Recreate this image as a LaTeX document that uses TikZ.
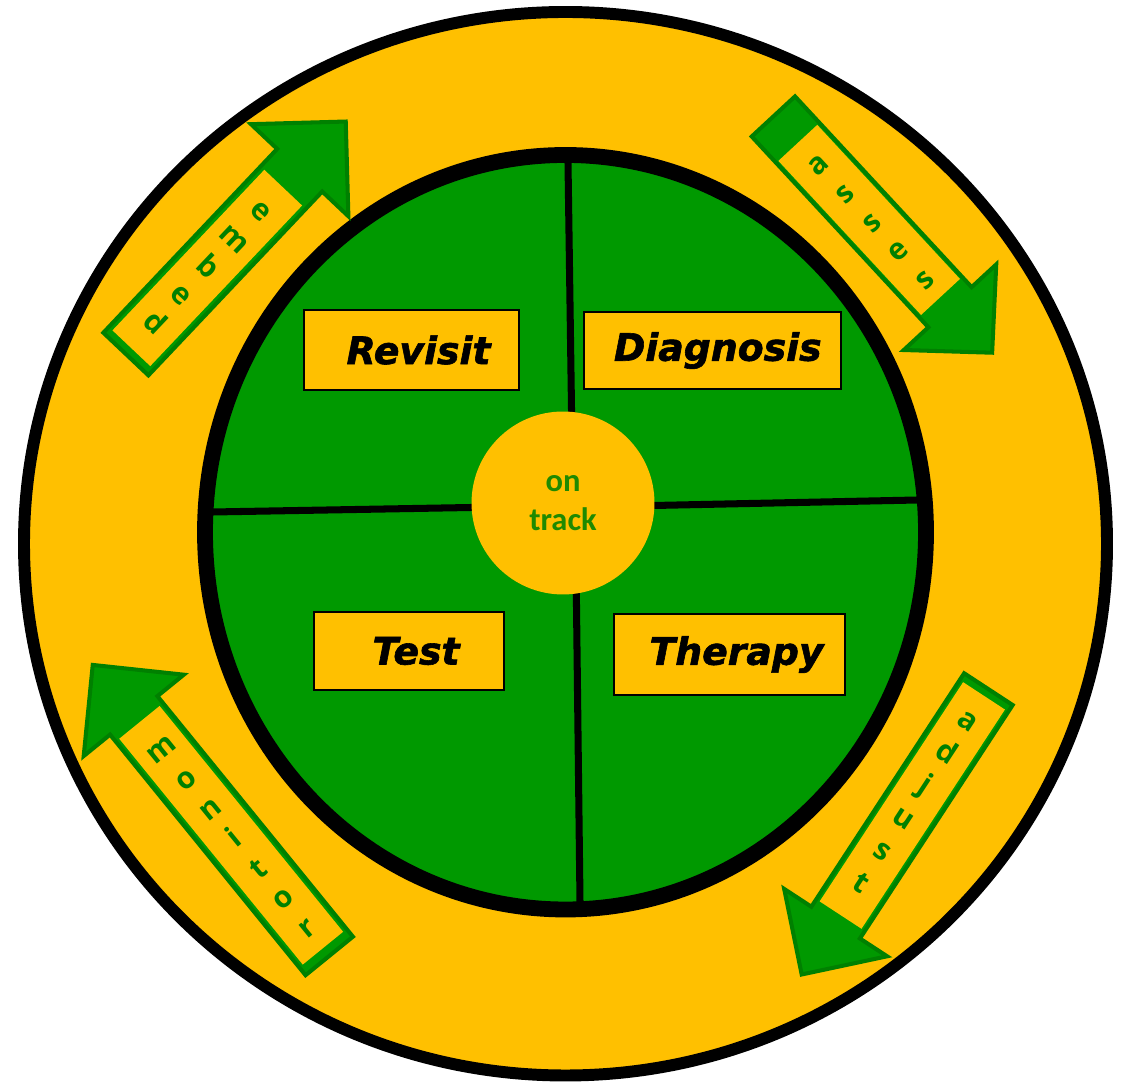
\documentclass[tikz,border=0pt]{standalone}
\usepackage{fontspec}
\setmainfont{DejaVu Sans}[BoldItalicFeatures={FakeBold=1.6}]
\newfontfamily\hubfont{Carlito}
\newfontfamily\stepfont{Open Sans}
\definecolor{amber}{HTML}{FFC000}
\definecolor{leaf}{HTML}{009900}
\definecolor{leafdark}{HTML}{008000}
\definecolor{hubtext}{HTML}{1F8A00}
\begin{document}
\begin{tikzpicture}[x=0.02cm,y=0.02cm,
  phase/.style={draw=black, line width=0.85pt, fill=amber, inner sep=0pt,
    font=\fontsize{21.5}{26}\selectfont\bfseries\itshape},
  arrowbody/.style={draw=leafdark, fill=leaf, line width=2.3pt, line join=miter},
  slot/.style={fill=amber},
  ltr/.style={text=leafdark, inner sep=0pt, anchor=center,
    text height=9pt, text depth=0pt,
    font=\stepfont\fontsize{17}{20}\selectfont\bfseries},
  divider/.style={draw=black, line width=4pt}
]
\useasboundingbox (0,0) rectangle (1122,1084);

% outer ring
\draw[fill=amber, line width=6.8pt] (565.5,540.25) ellipse [x radius=541.5, y radius=531.75];

% inner disc with its four quadrants
\fill[leaf] (565.5,551.75) ellipse [x radius=360.5, y radius=377.25];
\coordinate (dT1) at (568,921);  \coordinate (dT2) at (572,640);
\coordinate (dB1) at (580,182);  \coordinate (dB2) at (576,520);
\coordinate (dL1) at (213,572);  \coordinate (dL2) at (500,577);
\coordinate (dR1) at (918,584);  \coordinate (dR2) at (630,578);
\draw[divider] (dT1) -- (dT2);
\draw[divider] (dB1) -- (dB2);
\draw[divider] (dL1) -- (dL2);
\draw[divider] (dR1) -- (dR2);
\draw[line width=9pt] (565.5,551.75) ellipse [x radius=360.5, y radius=377.25];

% hub
\node[circle, fill=amber, minimum size=3.66cm, inner sep=0pt, align=center,
  text=hubtext, font=\hubfont\fontsize{18.5}{22}\selectfont\bfseries]
  (hub) at (563,581) {on\\track};

% phases
\node[phase, minimum width=4.3cm, minimum height=1.6cm] (revisit) at (411.5,734) {\hspace{8pt}Revisit};
\node[phase, minimum width=5.14cm, minimum height=1.54cm] (diagnosis) at (712.5,733.5) {\hspace{6pt}Diagnosis};
\node[phase, minimum width=3.8cm, minimum height=1.56cm] (test) at (409,433) {\hspace{8pt}Test};
\node[phase, minimum width=4.62cm, minimum height=1.62cm] (therapy) at (729.5,429.5) {\hspace{8pt}Therapy};

% embed
\begin{scope}[shift={(124.5,728.5)}, rotate=46.6]
  \draw[arrowbody] (2,-31) -- (255,-31) -- (255,-67) -- (322,0) -- (255,67) -- (255,31) -- (2,31) -- cycle;
  \fill[slot] (10,-26) rectangle (231,26);
  \node[ltr, rotate=-43.4] (em1) at (197.7,0) {e};
  \node[ltr, rotate=-43.4] (em2) at (159,0) {m};
  \node[ltr, rotate=-43.4] (em3) at (120.2,0) {b};
  \node[ltr, rotate=-43.4] (em4) at (81.5,0) {e};
  \node[ltr, rotate=-43.4] (em5) at (42.7,0) {d};
\end{scope}

% asses
\begin{scope}[shift={(772,969)}, rotate=-47.2]
  \draw[arrowbody] (2,-29.5) -- (262,-29.5) -- (262,-63) -- (324,0) -- (262,63) -- (262,29.5) -- (2,29.5) -- cycle;
  \fill[slot] (38,-26.5) rectangle (248,26.5);
  \node[ltr, rotate=42.8] (as1) at (69.3,0) {a};
  \node[ltr, rotate=42.8] (as2) at (108.5,0) {s};
  \node[ltr, rotate=42.8] (as3) at (147.7,0) {s};
  \node[ltr, rotate=42.8] (as4) at (186.9,0) {e};
  \node[ltr, rotate=42.8] (as5) at (226,0) {s};
\end{scope}

% monitor
\begin{scope}[shift={(330.5,126.5)}, rotate=129.1]
  \draw[arrowbody] (2,-30.5) -- (312,-30.5) -- (312,-64.5) -- (377,0) -- (312,64.5) -- (312,30.5) -- (2,30.5) -- cycle;
  \fill[slot] (12,-26) rectangle (303,26);
  \node[ltr, rotate=39.1] (mo1) at (267,0) {m};
  \node[ltr, rotate=39.1] (mo2) at (228.5,0) {o};
  \node[ltr, rotate=39.1] (mo3) at (190,0) {n};
  \node[ltr, rotate=39.1] (mo4) at (151.5,0) {i};
  \node[ltr, rotate=39.1] (mo5) at (113,0) {t};
  \node[ltr, rotate=39.1] (mo6) at (74.5,0) {o};
  \node[ltr, rotate=39.1] (mo7) at (36,0) {r};
\end{scope}

% adjust
\begin{scope}[shift={(989.5,396.5)}, rotate=-123.2]
  \draw[arrowbody] (2,-29) -- (281,-29) -- (281,-61.5) -- (343,0) -- (281,61.5) -- (281,29) -- (2,29) -- cycle;
  \fill[slot] (10,-25) rectangle (272,25);
  \node[ltr, rotate=-33.2] (ad1) at (40.6,0) {a};
  \node[ltr, rotate=-33.2] (ad2) at (79.6,0) {d};
  \node[ltr, rotate=-33.2] (ad3) at (118.6,0) {j};
  \node[ltr, rotate=-33.2] (ad4) at (157.6,0) {u};
  \node[ltr, rotate=-33.2] (ad5) at (196.6,0) {s};
  \node[ltr, rotate=-33.2] (ad6) at (235.6,0) {t};
\end{scope}
\end{tikzpicture}
\end{document}
